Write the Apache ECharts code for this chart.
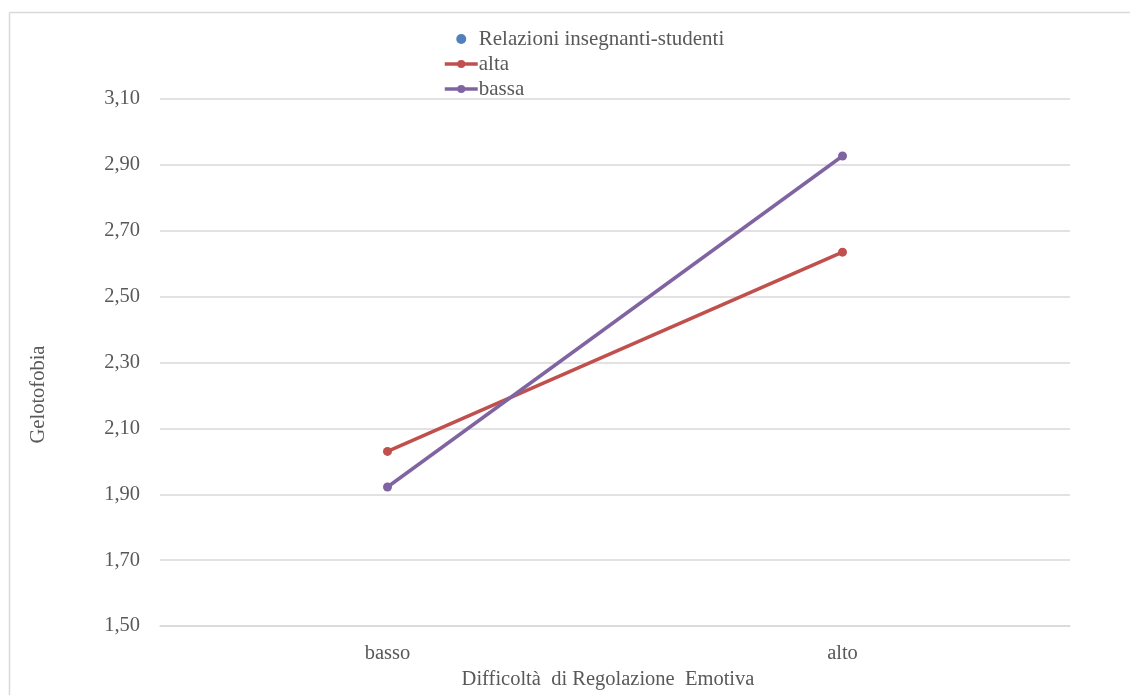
<!DOCTYPE html>
<html>
<head>
<meta charset="utf-8">
<script src="https://cdn.jsdelivr.net/npm/echarts@6/dist/echarts.min.js"></script>
<style>
html,body{margin:0;padding:0;background:#fff;}
#main{width:1130px;height:695px;}
</style>
</head>
<body>
<div id="main"></div>
<script>
var categories = ['basso', 'alto'];
var legendTitle = 'Relazioni insegnanti-studenti';
var seriesNames = ['alta', 'bassa'];
var altaValues = [2.03, 2.635];
var bassaValues = [1.922, 2.927];
var yTicks = [1.5, 3.1, 0.2];
var xTitle = 'Difficoltà  di Regolazione  Emotiva';
var yTitle = 'Gelotofobia';

var font = '"Liberation Serif", "Times New Roman", serif';
var chart = echarts.init(document.getElementById('main'));
chart.setOption({
  animation: false,
  backgroundColor: '#fff',
  textStyle: { fontFamily: font },
  grid: { left: 160, right: 60, top: 99, bottom: 69 },
  legend: {
    orient: 'vertical',
    left: 443,
    top: 28,
    padding: 0,
    itemWidth: 33,
    itemHeight: 10,
    itemGap: 3,
    lineStyle: { width: 3.5 },
    textStyle: { fontFamily: font, fontSize: 21, color: '#595959', padding: [0,0,0,-4], lineHeight: 22 },
    data: [
      { name: legendTitle, icon: 'circle', itemStyle: { color: '#4F81BD' } },
      { name: seriesNames[0] },
      { name: seriesNames[1] }
    ]
  },
  xAxis: {
    type: 'category',
    data: categories,
    boundaryGap: true,
    axisLine: { show: true, lineStyle: { color: '#d9d9d9', width: 1.5 } },
    axisTick: { show: false },
    axisLabel: { color: '#595959', fontSize: 20.5, margin: 17, fontFamily: font },
    name: xTitle,
    nameLocation: 'middle',
    nameGap: 42,
    nameTextStyle: { color: '#595959', fontSize: 20.5, fontFamily: font, padding: [0, 14, 0, 0] }
  },
  yAxis: {
    type: 'value',
    min: yTicks[0],
    max: yTicks[1],
    interval: yTicks[2],
    axisLine: { show: false },
    axisTick: { show: false },
    splitLine: { lineStyle: { color: '#d9d9d9', width: 1.5 } },
    axisLabel: {
      color: '#595959', fontSize: 20.5, margin: 20, fontFamily: font,
      formatter: function (v) { return v.toFixed(2).replace('.', ','); }
    },
    name: yTitle,
    nameLocation: 'middle',
    nameGap: 111,
    nameRotate: 90,
    nameTextStyle: { color: '#595959', fontSize: 20.5, fontFamily: font, padding: [0, 64, 0, 0] }
  },
  series: [
    { name: legendTitle, type: 'line', data: [], itemStyle: { color: '#4F81BD' } },
    {
      name: seriesNames[0], type: 'line', data: altaValues,
      symbol: 'circle', symbolSize: 9,
      lineStyle: { color: '#C0504D', width: 3.5 },
      itemStyle: { color: '#C0504D' }
    },
    {
      name: seriesNames[1], type: 'line', data: bassaValues,
      symbol: 'circle', symbolSize: 9,
      lineStyle: { color: '#8064A2', width: 3.5 },
      itemStyle: { color: '#8064A2' }
    }
  ],
  graphic: [
    { type: 'line', shape: { x1: 9.5, y1: 12.5, x2: 1130, y2: 12.5 }, style: { stroke: '#d9d9d9', lineWidth: 1.5 } },
    { type: 'line', shape: { x1: 9.5, y1: 12.5, x2: 9.5, y2: 695 }, style: { stroke: '#d9d9d9', lineWidth: 1.5 } }
  ]
});
</script>
</body>
</html>
